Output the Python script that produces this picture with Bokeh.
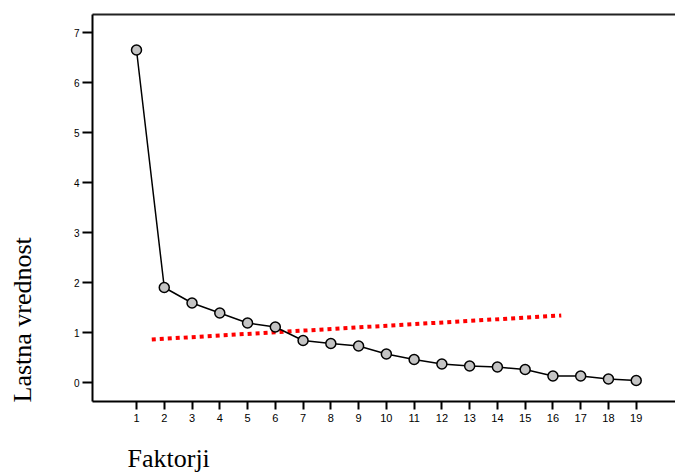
from bokeh.plotting import figure
from bokeh.models import Range1d, FixedTicker, LinearAxis, Title, CustomJSTickFormatter
from bokeh.embed import file_html
from bokeh.resources import INLINE

factors = list(range(1, 20))
eigenvalues = [6.65, 1.90, 1.59, 1.39, 1.19, 1.11, 0.84, 0.78, 0.73, 0.57,
               0.46, 0.37, 0.33, 0.31, 0.26, 0.13, 0.13, 0.07, 0.04]
ref_x = [1.55, 16.3]
ref_y = [0.86, 1.34]
y_ticks = [0, 1, 2, 3, 4, 5, 6, 7]
x_label = "Faktorji"
y_label = "Lastna vrednost"

p = figure(width=675, height=475, output_backend="svg", toolbar_location=None,
           x_range=Range1d(-0.585, 20.415), y_range=Range1d(-0.38, 7.36),
           min_border_left=92, min_border_right=0, min_border_top=14, min_border_bottom=74)
p.outline_line_color = None
p.xgrid.visible = False
p.ygrid.visible = False
p.background_fill_color = "white"
p.border_fill_color = "white"

xa = p.xaxis[0]
ya = p.yaxis[0]
for ax in (xa, ya):
    ax.axis_line_width = 2
    ax.axis_line_color = "black"
    ax.major_tick_line_width = 2
    ax.major_tick_line_color = "black"
    ax.minor_tick_line_color = None
    ax.major_tick_in = 0
    ax.major_label_text_font = "Liberation Sans"
    ax.major_label_text_color = "black"

xa.ticker = FixedTicker(ticks=factors)
xa.major_tick_out = 8
xa.major_label_standoff = 4
xa.major_label_text_font_size = "11px"
ya.ticker = FixedTicker(ticks=y_ticks)
ya.major_tick_out = 10
ya.major_label_standoff = 3
ya.major_label_text_font_size = "10px"

# top line
top = LinearAxis(ticker=FixedTicker(ticks=[]), axis_line_width=2, axis_line_color="#222222",
                 major_tick_out=0, major_tick_in=0, minor_tick_out=0, minor_tick_in=0,
                 major_label_standoff=0, major_label_text_font_size="0px")
p.add_layout(top, "above")


def spacer(size, tick):
    # invisible axis used only to reserve room in a side panel
    return LinearAxis(ticker=FixedTicker(ticks=[tick]), axis_line_color=None,
                      major_tick_out=size, major_tick_in=0, minor_tick_out=0, minor_tick_in=0,
                      major_tick_line_color="white", major_tick_line_width=0.5,
                      minor_tick_line_color=None, major_label_standoff=0,
                      formatter=CustomJSTickFormatter(code="return ''"))


p.add_layout(spacer(17, 20.4), "below")
p.add_layout(spacer(34, 7.33), "left")

p.add_layout(Title(text=x_label, align="left", offset=35, vertical_align="bottom",
                   text_font="Liberation Serif", text_font_size="26px",
                   text_font_style="normal", text_color="black", standoff=0), "below")
p.add_layout(Title(text=y_label, align="left", offset=-1, vertical_align="bottom",
                   text_font="Liberation Serif", text_font_size="26px",
                   text_font_style="normal", text_color="black", standoff=0), "left")

p.line(ref_x, ref_y, line_color="red", line_width=4, line_dash="4 4", line_cap="butt")
p.line(factors, eigenvalues, line_color="black", line_width=1.5)
p.scatter(factors, eigenvalues, marker="circle", size=10, fill_color="#c4c4c4",
          line_color="black", line_width=1.5)

open("out.html", "w").write(file_html(p, INLINE))
